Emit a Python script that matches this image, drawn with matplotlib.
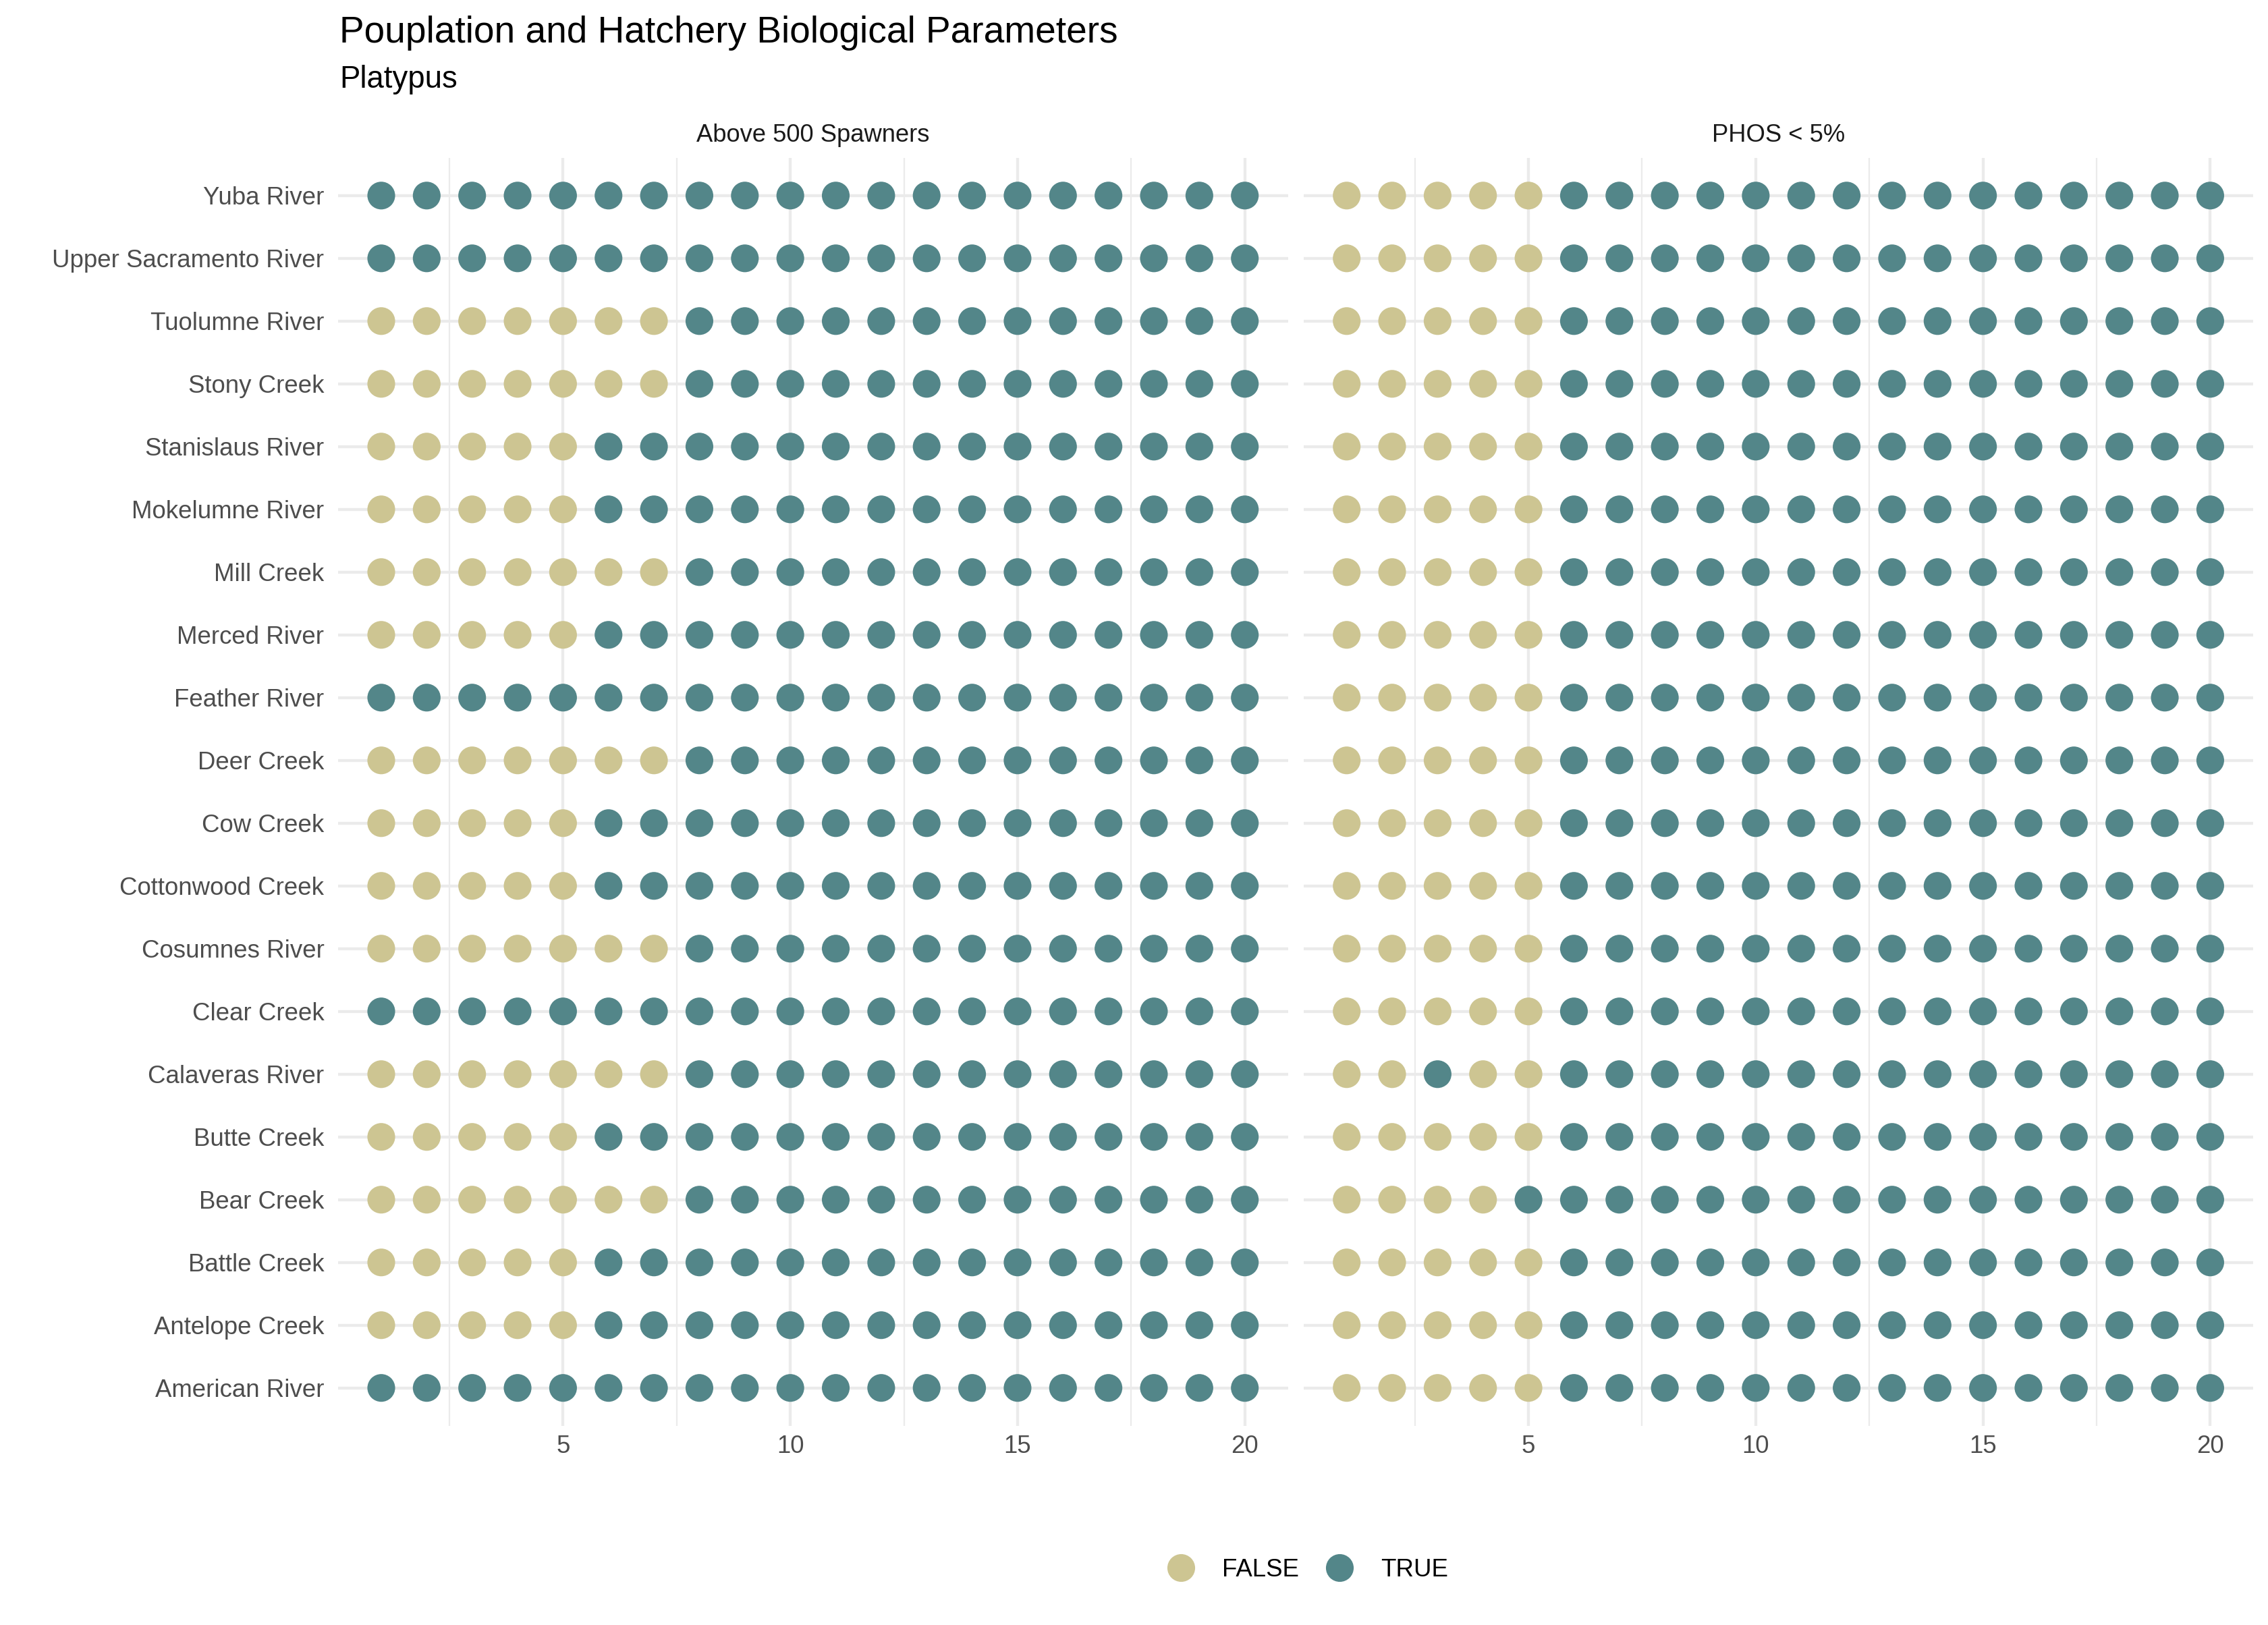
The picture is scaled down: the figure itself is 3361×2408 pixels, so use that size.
import matplotlib
matplotlib.use("Agg")
import matplotlib.pyplot as plt
from matplotlib.lines import Line2D

plt.rcParams['font.family'] = ['Liberation Sans', 'DejaVu Sans']

# rivers, bottom to top (alphabetical, as on the y axis)
rivers = ["American River", "Antelope Creek", "Battle Creek", "Bear Creek",
          "Butte Creek", "Calaveras River", "Clear Creek", "Cosumnes River",
          "Cottonwood Creek", "Cow Creek", "Deer Creek", "Feather River",
          "Merced River", "Mill Creek", "Mokelumne River", "Stanislaus River",
          "Stony Creek", "Tuolumne River", "Upper Sacramento River", "Yuba River"]

years = list(range(1, 21))

# one character per year, T = TRUE, F = FALSE
above_500 = ["TTTTTTTTTTTTTTTTTTTT",  # American
             "FFFFFTTTTTTTTTTTTTTT",  # Antelope
             "FFFFFTTTTTTTTTTTTTTT",  # Battle
             "FFFFFFFTTTTTTTTTTTTT",  # Bear
             "FFFFFTTTTTTTTTTTTTTT",  # Butte
             "FFFFFFFTTTTTTTTTTTTT",  # Calaveras
             "TTTTTTTTTTTTTTTTTTTT",  # Clear
             "FFFFFFFTTTTTTTTTTTTT",  # Cosumnes
             "FFFFFTTTTTTTTTTTTTTT",  # Cottonwood
             "FFFFFTTTTTTTTTTTTTTT",  # Cow
             "FFFFFFFTTTTTTTTTTTTT",  # Deer
             "TTTTTTTTTTTTTTTTTTTT",  # Feather
             "FFFFFTTTTTTTTTTTTTTT",  # Merced
             "FFFFFFFTTTTTTTTTTTTT",  # Mill
             "FFFFFTTTTTTTTTTTTTTT",  # Mokelumne
             "FFFFFTTTTTTTTTTTTTTT",  # Stanislaus
             "FFFFFFFTTTTTTTTTTTTT",  # Stony
             "FFFFFFFTTTTTTTTTTTTT",  # Tuolumne
             "TTTTTTTTTTTTTTTTTTTT",  # Upper Sacramento
             "TTTTTTTTTTTTTTTTTTTT"]  # Yuba

phos_lt5 = ["FFFFFTTTTTTTTTTTTTTT",  # American
            "FFFFFTTTTTTTTTTTTTTT",  # Antelope
            "FFFFFTTTTTTTTTTTTTTT",  # Battle
            "FFFFTTTTTTTTTTTTTTTT",  # Bear
            "FFFFFTTTTTTTTTTTTTTT",  # Butte
            "FFTFFTTTTTTTTTTTTTTT",  # Calaveras
            "FFFFFTTTTTTTTTTTTTTT",  # Clear
            "FFFFFTTTTTTTTTTTTTTT",  # Cosumnes
            "FFFFFTTTTTTTTTTTTTTT",  # Cottonwood
            "FFFFFTTTTTTTTTTTTTTT",  # Cow
            "FFFFFTTTTTTTTTTTTTTT",  # Deer
            "FFFFFTTTTTTTTTTTTTTT",  # Feather
            "FFFFFTTTTTTTTTTTTTTT",  # Merced
            "FFFFFTTTTTTTTTTTTTTT",  # Mill
            "FFFFFTTTTTTTTTTTTTTT",  # Mokelumne
            "FFFFFTTTTTTTTTTTTTTT",  # Stanislaus
            "FFFFFTTTTTTTTTTTTTTT",  # Stony
            "FFFFFTTTTTTTTTTTTTTT",  # Tuolumne
            "FFFFFTTTTTTTTTTTTTTT",  # Upper Sacramento
            "FFFFFTTTTTTTTTTTTTTT"]  # Yuba

panels = [("Above 500 Spawners", above_500), ("PHOS < 5%", phos_lt5)]

COL_FALSE = "#CDC592"
COL_TRUE = "#538689"
GRID = "#EBEBEB"

fig = plt.figure(figsize=(16.81, 12.04), dpi=200)
fig.patch.set_facecolor("white")

ax_bottom = 1 - 2112.5 / 2408
ax_height = (2112.5 - 234) / 2408
lefts = [501 / 3362, 1931.7 / 3362]
width = 1407.7 / 3362

for k, (label, rows) in enumerate(panels):
    ax = fig.add_axes([lefts[k], ax_bottom, width, ax_height])
    xs, ys, cs = [], [], []
    for i, row in enumerate(rows):
        for j, flag in enumerate(row):
            xs.append(years[j])
            ys.append(i)
            cs.append(COL_TRUE if flag == "T" else COL_FALSE)
    ax.scatter(xs, ys, s=219, c=cs, linewidths=0, zorder=3)

    ax.set_xlim(0.05, 20.95)
    ax.set_ylim(-0.6, len(rivers) - 1 + 0.6)
    ax.set_xticks([5, 10, 15, 20])
    ax.set_xticks([2.5, 7.5, 12.5, 17.5], minor=True)
    ax.set_yticks(range(len(rivers)))
    if k == 0:
        ax.set_yticklabels(rivers)
    else:
        ax.set_yticklabels([])
    ax.grid(True, which="major", color=GRID, linewidth=1.55, zorder=0)
    ax.grid(True, which="minor", axis="x", color=GRID, linewidth=0.8, zorder=0)
    ax.set_axisbelow(True)
    for sp in ax.spines.values():
        sp.set_visible(False)
    ax.tick_params(axis="both", which="both", length=0, labelsize=13.2,
                   labelcolor="#4D4D4D")
    ax.tick_params(axis="y", pad=7.4)
    ax.tick_params(axis="x", pad=5)
    ax.text(0.5, 1 + 34 / 1878.5, label, transform=ax.transAxes,
            ha="center", va="center", fontsize=13.1, color="#1A1A1A")

fig.text(503 / 3362, 1 - 63 / 2408, "Pouplation and Hatchery Biological Parameters",
         fontsize=19.8, color="black", ha="left", va="baseline")
fig.text(503 / 3362, 1 - 130 / 2408, "Platypus",
         fontsize=16.4, color="black", ha="left", va="baseline")

handles = [Line2D([], [], linestyle="none", marker="o", markersize=14.8,
                  markerfacecolor=c, markeredgewidth=0)
           for c in (COL_FALSE, COL_TRUE)]
fig.legend(handles, ["FALSE", "TRUE"], loc="center",
           bbox_to_anchor=(1937 / 3362, 1 - 2326 / 2408), ncol=2,
           frameon=False, fontsize=13.2, handlelength=1.2,
           handletextpad=1.05, columnspacing=1.05, borderpad=0, borderaxespad=0)

fig.savefig("out.png", dpi=200, facecolor="white")
